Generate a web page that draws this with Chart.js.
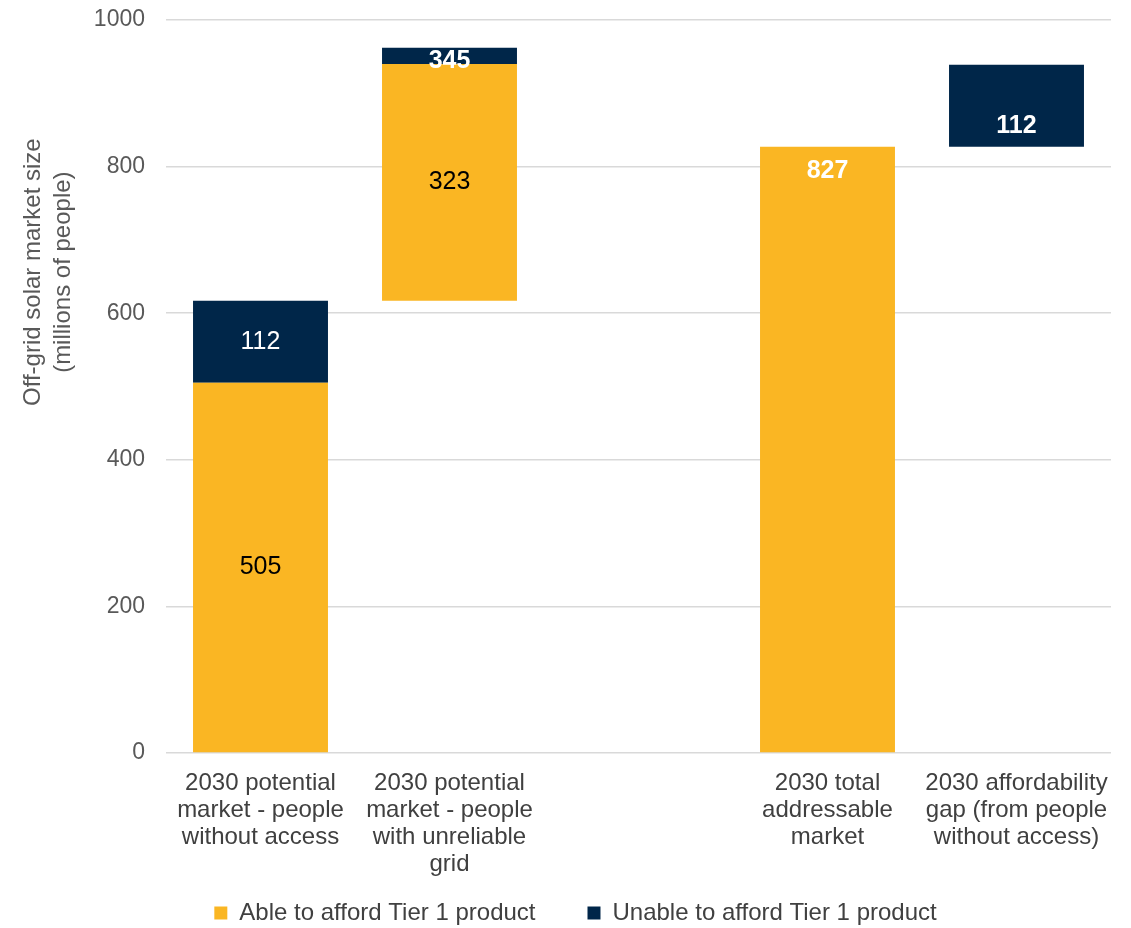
<!DOCTYPE html>
<html>
<head>
<meta charset="utf-8">
<title>Off-grid solar market size</title>
<script src="https://cdn.jsdelivr.net/npm/chart.js@4.4.1/dist/chart.umd.min.js"></script>
<style>
  html, body { margin: 0; padding: 0; background: #ffffff; }
  #wrap { position: relative; width: 1131px; height: 928px; }
</style>
</head>
<body>
<div id="wrap"><canvas id="chart"></canvas></div>
<script>
// Column labels (one blank slot separates the two groups)
const categories = [
  ['2030 potential', 'market - people', 'without access'],
  ['2030 potential', 'market - people', 'with unreliable', 'grid'],
  '',
  ['2030 total', 'addressable', 'market'],
  ['2030 affordability', 'gap (from people', 'without access)']
];
const seriesNames = ['Able to afford Tier 1 product', 'Unable to afford Tier 1 product'];
// Level (millions of people) at which each column starts
const columnBase = [0, 617, null, 0, 827];
// Segment sizes, millions of people
const ableValues = [505, 323, null, 827, null];
const unableValues = [112, 22, null, null, 112];
const yTicks = [0, 200, 400, 600, 800, 1000];
const axisTitle = ['Off-grid solar market size', '(millions of people)'];

const FONT = '"Liberation Sans", Arial, Helvetica, sans-serif';
const ORANGE = '#FAB623';
const NAVY = '#002649';

// Floating [start, end] ranges built from the segment sizes
const ableRanges = columnBase.map((b, i) =>
  ableValues[i] == null ? null : [b, b + ableValues[i]]);
const unableRanges = columnBase.map((b, i) => {
  if (unableValues[i] == null) return null;
  const start = b + (ableValues[i] || 0);
  return [start, start + unableValues[i]];
});

// Value labels: placement and look for each segment
const labelStyles = [
  [
    { pos: 'center', color: '#000000', bold: false },
    { pos: 'center', color: '#000000', bold: false },
    null,
    { pos: 'top', dy: 24, color: '#ffffff', bold: true },
    null
  ],
  [
    { pos: 'center', color: '#ffffff', bold: false },
    { pos: 'base', dy: -3, color: '#ffffff', bold: true, showTotal: true },
    null,
    null,
    { pos: 'base', dy: -21, color: '#ffffff', bold: true }
  ]
];

const annotate = {
  id: 'annotate',
  afterDatasetsDraw(chart, args, opts) {
    const ctx = chart.ctx;
    ctx.save();
    ctx.textAlign = 'center';
    ctx.textBaseline = 'middle';
    chart.data.datasets.forEach((ds, di) => {
      const meta = chart.getDatasetMeta(di);
      meta.data.forEach((bar, i) => {
        const st = opts.styles[di][i];
        const range = ds.data[i];
        if (!st || !range) return;
        const { x, y, base } = bar.getProps(['x', 'y', 'base'], true);
        const top = Math.min(y, base);
        const bottom = Math.max(y, base);
        let ly;
        if (st.pos === 'top') ly = top + st.dy;
        else if (st.pos === 'base') ly = bottom + st.dy;
        else ly = (top + bottom) / 2;
        const value = st.showTotal ? range[1] - columnBase[i] : range[1] - range[0];
        ctx.font = (st.bold ? 'bold ' : '') + opts.fontSize + 'px ' + FONT;
        ctx.fillStyle = st.color;
        ctx.fillText(String(value), x, ly);
      });
    });
    ctx.restore();
  },
  afterDraw(chart, args, opts) {
    // Rotated two-line title for the value axis
    const ctx = chart.ctx;
    const area = chart.chartArea;
    ctx.save();
    ctx.font = opts.titleSize + 'px ' + FONT;
    ctx.fillStyle = '#595959';
    ctx.textAlign = 'center';
    ctx.textBaseline = 'middle';
    const cy = area.top + area.height * opts.titleCenter;
    axisTitle.forEach((line, k) => {
      ctx.save();
      ctx.translate(area.left - opts.titleInset + k * opts.titleLineGap, cy);
      ctx.rotate(-Math.PI / 2);
      ctx.fillText(line, 0, 0);
      ctx.restore();
    });
    ctx.restore();
  }
};

Chart.defaults.font.family = FONT;

new Chart(document.getElementById('chart'), {
  type: 'bar',
  data: {
    labels: categories,
    datasets: [
      {
        label: seriesNames[0],
        data: ableRanges,
        backgroundColor: ORANGE,
        borderWidth: 0
      },
      {
        label: seriesNames[1],
        data: unableRanges,
        backgroundColor: NAVY,
        borderWidth: 0
      }
    ]
  },
  options: {
    responsive: true,
    maintainAspectRatio: false,
    animation: false,
    events: [],
    barPercentage: 0.714,
    categoryPercentage: 1.0,
    layout: { padding: { top: 20, right: 20, bottom: -7, left: 40 } },
    scales: {
      x: {
        stacked: true,
        grid: { display: false },
        border: { display: false },
        ticks: {
          autoSkip: false,
          maxRotation: 0,
          minRotation: 0,
          padding: 9,
          color: '#404040',
          font: { size: 24, lineHeight: '27px' }
        },
        afterFit(scale) { scale.height = 96; },
        // let the multi-line category labels run below the axis box
        afterUpdate(scale) { scale._computeLabelArea = () => undefined; }
      },
      y: {
        stacked: false,
        min: 0,
        max: 1000,
        afterBuildTicks(scale) { scale.ticks = yTicks.map(v => ({ value: v })); },
        grid: { color: '#D9D9D9', lineWidth: 1.5, drawTicks: false },
        border: { display: false },
        ticks: {
          padding: 21,
          color: '#595959',
          font: { size: 23 },
          callback: v => String(v)
        },
        afterFit(scale) {
          scale.width = 126;
          // the top tick label fits inside the layout padding
          scale.paddingTop = 0;
          scale.paddingBottom = 0;
        }
      }
    },
    plugins: {
      tooltip: { enabled: false },
      legend: {
        position: 'bottom',
        labels: {
          boxWidth: 13,
          boxHeight: 13,
          padding: 52,
          color: '#404040',
          font: { size: 24 }
        }
      },
      annotate: {
        styles: labelStyles,
        fontSize: 25,
        titleSize: 24,
        titleInset: 133,
        titleLineGap: 30,
        titleCenter: 0.344
      }
    }
  },
  plugins: [annotate]
});
</script>
</body>
</html>
